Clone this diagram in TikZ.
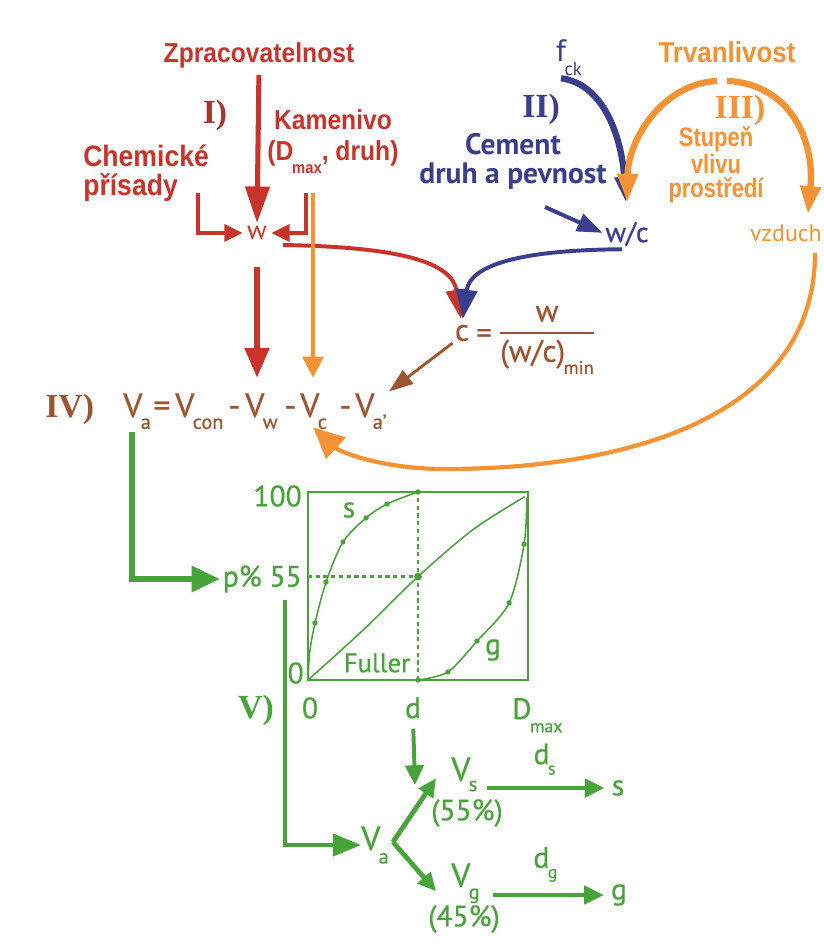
\documentclass[tikz,border=0pt]{standalone}
\usepackage{fontspec}
\usepackage{graphicx}
\usetikzlibrary{arrows.meta, positioning}
\setmainfont{PT Sans}
\newfontfamily\medfont[FakeBold=0.6]{PT Sans}
\newfontfamily\headfont[FakeStretch=0.9]{Liberation Sans}
\newfontfamily\condfont[FakeStretch=0.82]{Liberation Sans}
\newfontfamily\numfont{Liberation Serif}
\definecolor{lred}{RGB}{200, 52, 44}
\definecolor{ldred}{RGB}{165, 55, 45}
\definecolor{lorange}{RGB}{244, 146, 52}
\definecolor{lblue}{RGB}{58, 62, 140}
\definecolor{lbrown}{RGB}{158, 84, 48}
\definecolor{lgreen}{RGB}{72, 164, 58}
\newcommand{\sbs}[2][.3em]{\kern-.05em\raisebox{-#1}{\scalebox{.6}{#2}}}
\tikzset{
    redlbl/.style={text=lred, font=\headfont\bfseries\fontsize{19.5}{20}\selectfont, inner sep=0pt, align=left},
    orlbl/.style={text=lorange, font=\headfont\bfseries\fontsize{20.5}{22}\selectfont, inner sep=0pt},
    orcond/.style={text=lorange, font=\condfont\bfseries\fontsize{19}{17.5}\selectfont, inner sep=0pt, align=center},
    bluelbl/.style={text=lblue, font=\bfseries\fontsize{21}{20.5}\selectfont, inner sep=0pt, align=center},
    roman/.style={font=\numfont\bfseries\fontsize{24}{24}\selectfont, inner sep=0pt},
    brtxt/.style={text=lbrown, font=\medfont\fontsize{24}{26}\selectfont, inner sep=0pt, anchor=base west},
    grtxt/.style={text=lgreen, font=\medfont\fontsize{21}{24}\selectfont, inner sep=0pt},
    vtxt/.style={text=lgreen, font=\medfont\fontsize{24}{26}\selectfont, inner sep=0pt},
    bigred/.style={draw=lred, line width=3.6pt, -{Triangle[length=26pt, width=17pt]}},
    redbr/.style={draw=lred, line width=2.6pt, -{Triangle[length=13pt, width=12pt]}},
    redcurve/.style={draw=lred, line width=2.8pt, -{Triangle[length=21pt, width=15pt]}},
    orthin/.style={draw=lorange, line width=2.2pt, -{Triangle[length=15pt, width=15pt]}},
    orarc/.style={draw=lorange, line width=4.5pt, -{Triangle[length=20pt, width=14pt]}},
    orbig/.style={draw=lorange, line width=3pt, -{Triangle[length=22pt, width=20pt]}},
    bluearc/.style={draw=lblue, line width=4.5pt, -{Triangle[length=18pt, width=13pt]}},
    bluearr/.style={draw=lblue, line width=2.8pt, -{Triangle[length=18pt, width=13pt]}},
    brarr/.style={draw=lbrown, line width=2pt, -{Triangle[length=17pt, width=12pt]}},
    garr/.style={draw=lgreen, line width=4pt, -{Triangle[length=20pt, width=18pt]}},
    gfork/.style={draw=lgreen, line width=3.4pt, -{Triangle[length=13pt, width=12pt]}},
    gthin/.style={draw=lgreen, line width=2.8pt, -{Triangle[length=14pt, width=13pt]}},
    chartbox/.style={draw=lgreen, line width=2pt},
    chartcurve/.style={draw=lgreen, line width=1.1pt},
    chartdash/.style={draw=lgreen, line width=1.8pt, dash pattern=on 3pt off 2.5pt},
    gdot/.style={fill=lgreen}
}
\begin{document}
\begin{tikzpicture}[x=0.025cm, y=-0.025cm]
    \fill[white] (0,0) rectangle (823,947);
    \useasboundingbox (0,0) rectangle (823,947);

    % I) water
    \node[redlbl] (zpr) at (259,55) {Zpracovatelnost};
    \node[roman, text=ldred] (r1) at (215,115) {I)};
    \node[redlbl] (kam) at (333,120) {Kamenivo};
    \node[redlbl] (dmax) at (333,157) {(D\sbs[.45em]{max}, druh)};
    \node[redlbl, font=\headfont\bfseries\fontsize{21}{20.5}\selectfont, anchor=north west] (chem) at (83,145) {Chemické\\přísady};
    \node[text=lred, font=\fontsize{19}{19}\selectfont, inner sep=0pt] (w) at (257,233) {w};
    \coordinate (chemfoot) at (198,193);
    \coordinate (kamfoot) at (306,193);
    \coordinate (orfoot) at (313,193);

    \draw[bigred, shorten <=5pt, shorten >=2pt] (zpr.south) -- (w.north);
    \draw[redbr, shorten >=3pt] (chemfoot) |- (w.west);
    \draw[redbr, shorten >=3pt] (kamfoot) |- (w.east);

    % II) cement
    \node[text=lblue, font=\fontsize{22}{22}\selectfont, inner sep=0pt] (fck) at (569,58) {f\sbs[.45em]{ck}};
    \node[roman, text=lblue] (r2) at (541,109) {II)};
    \node[bluelbl] (cem) at (513,161) {Cement\\druh a pevnost};
    \node[text=lblue, font=\medfont\fontsize{20}{20}\selectfont, inner sep=0pt] (wc) at (627,234) {w/c};
    \coordinate (cemfoot) at (545,207);

    \draw[bluearc, shorten >=14pt] ([shift={(-8,2)}]fck.south) .. controls (605,84) and (622,140) .. (wc.north);
    \draw[bluearr, shorten >=2pt] (cemfoot) -- (wc.west);

    % III) durability
    \node[orlbl] (trv) at (727,52) {Trvanlivost};
    \node[roman, text=lorange] (r3) at (740,110) {III)};
    \node[orcond] (stu) at (716,165) {Stupeň\\vlivu\\prostředí};
    \node[text=lorange, font=\fontsize{17}{17}\selectfont, inner sep=0pt, anchor=east] (vz) at (822,233) {vzduch};

    \draw[orarc, shorten >=14pt] ([shift={(-10,18)}]trv.south) .. controls (662,84) and (628,140) .. (wc.north);
    \draw[orarc] ([shift={(0,18)}]trv.south) .. controls (790,84) and (815,140) .. ([shift={(22,-10)}]vz.north);

    % cement content
    \node[text=lbrown, font=\medfont\fontsize{22}{24}\selectfont, inner sep=0pt] (c) at (462,333) {c};
    \node[text=lbrown, font=\medfont\fontsize{22}{24}\selectfont, inner sep=0pt, anchor=west] (cfr) at (476,336)
        {= {\setlength{\arrayrulewidth}{1.4pt}\begin{tabular}{@{}c@{}}w\\\hline\rule{0pt}{20pt}(w/c)\sbs[.4em]{min}\end{tabular}}};

    \draw[redcurve, shorten >=4pt] ([shift={(16,12)}]w.east) .. controls (400,247) and (452,262) .. (c.north);
    \draw[bluearr, -{Triangle[length=21pt, width=15pt]}, shorten >=4pt] ([shift={(-5,3)}]wc.south) .. controls (520,250) and (470,265) .. (c.north);

    % IV) air / aggregate volume
    \node[roman, text=lbrown, anchor=base west] (r4) at (45,417) {IV)};
    \node[brtxt] (Va) at (123,417) {V\sbs[.35em]{a}};
    \node[brtxt] (eq1) at (153,417) {=};
    \node[brtxt] (Vcon) at (175,417) {V\sbs[.35em]{con}};
    \node[brtxt] (m1) at (228,417) {-};
    \node[brtxt] (Vw) at (245,417) {V\sbs[.35em]{w}};
    \node[brtxt] (m2) at (284,417) {-};
    \node[brtxt] (Vc) at (300,417) {V\sbs[.35em]{c}};
    \node[brtxt] (m3) at (339,417) {-};
    \node[brtxt] (Vap) at (355,417) {V\sbs[.35em]{a’}};

    \draw[bigred, -{Triangle[length=21pt, width=17pt]}, shorten <=19pt, shorten >=11pt] (w.south) -- (w.south |- Vw.north);
    \draw[orthin, shorten >=11pt] (orfoot) -- (orfoot |- Vc.north);
    \draw[brarr, shorten <=2pt, shorten >=2pt] (c.south west) -- (Vap.north east);
    \coordinate (vzout) at (815,253);
    \draw[orbig] (vzout) .. controls (815,420) and (620,470) .. (440,469) .. controls (380,468) and (340,452) .. ([shift={(-14,-2)}]Vc.south east);

    % V) grading
    \begin{scope}[shift={(308,680)}, x=5.5cm, y=4.7cm]
        \draw[chartdash] (0,0.55) -- (0.5,0.55);
        \draw[chartdash] (0.5,0) -- (0.5,1);
        \draw[chartcurve] plot[smooth] coordinates {(0,0) (0.25,0.265) (0.5,0.55) (0.75,0.8) (0.985,0.975)};
        \draw[chartcurve] plot[smooth] coordinates {(0,0) (0.008,0.15) (0.032,0.303) (0.082,0.521) (0.159,0.734) (0.264,0.862) (0.359,0.936) (0.5,1)};
        \draw[chartcurve] plot[smooth] coordinates {(0.5,0) (0.636,0.043) (0.768,0.207) (0.914,0.41) (0.982,0.723) (0.995,0.97)};
        \foreach \px/\py in {0.032/0.303, 0.082/0.521, 0.159/0.734, 0.264/0.862, 0.359/0.936, 0.5/1, 0.5/0, 0.636/0.043, 0.768/0.207, 0.914/0.41, 0.982/0.723}
            \fill[gdot] (\px,\py) circle[radius=1.9pt];
        \fill[gdot] (0.5,0.55) circle[radius=2.8pt];
        \draw[chartbox] (0,0) rectangle (1,1);
    \end{scope}
    \node[grtxt, anchor=east] (p100) at (302,496) {100};
    \node[grtxt, anchor=east] (pct) at (302,579) {p\% 55};
    \node[grtxt, anchor=east] (p0) at (304,673) {0};
    \node[grtxt] (x0) at (310,708) {0};
    \node[grtxt] (xd) at (413,708) {d};
    \node[grtxt, anchor=base west] (xD) at (512,719) {D\sbs[.45em]{max}};
    \node[grtxt] (lbls) at (349,510) {s};
    \node[grtxt] (lblg) at (493,650) {g};
    \node[grtxt, font=\medfont\fontsize{19}{20}\selectfont] (fuller) at (377,663) {Fuller};
    \node[roman, text=lgreen] (r5) at (256,710) {V)};

    \node[vtxt] (Va2) at (375,845) {V\sbs[.4em]{a}};
    \node[vtxt, anchor=base west] (Vs) at (451,781) {V\sbs[.3em]{s}};
    \node[grtxt] (s55) at (467,813) {(55\%)};
    \node[vtxt, anchor=base west] (Vg) at (451,887) {V\sbs[.35em]{g}};
    \node[grtxt] (g45) at (464,919) {(45\%)};
    \node[grtxt] (sres) at (618,788) {s};
    \node[grtxt] (gres) at (619,895) {g};
    \coordinate (fork) at (393,842);
    \coordinate (vtop) at (285,600);
    \coordinate (dtip) at (415,785);

    \draw[garr, shorten >=2pt] ([shift={(9,3)}]Va.south west) |- (pct.west);
    \draw[garr, line width=2.2pt, -{Triangle[length=20pt, width=16pt]}] (vtop) |- (Va2.west);
    \draw[gthin, shorten <=7pt] (xd.south) -- (dtip);
    \draw[gfork] (fork) -- ([shift={(-15,4)}]Vs.west);
    \draw[gfork] (fork) -- ([shift={(-15,8)}]Vg.west);
    \draw[gthin, shorten <=7pt, shorten >=5pt] (sres.west -| Vs.east) -- node[grtxt, above=8pt] {d\sbs[.35em]{s}} (sres.west);
    \draw[gthin, shorten <=9pt, shorten >=5pt] (gres.west -| Vg.east) -- node[grtxt, above=8pt] {d\sbs[.35em]{g}} (gres.west);
\end{tikzpicture}
\end{document}
